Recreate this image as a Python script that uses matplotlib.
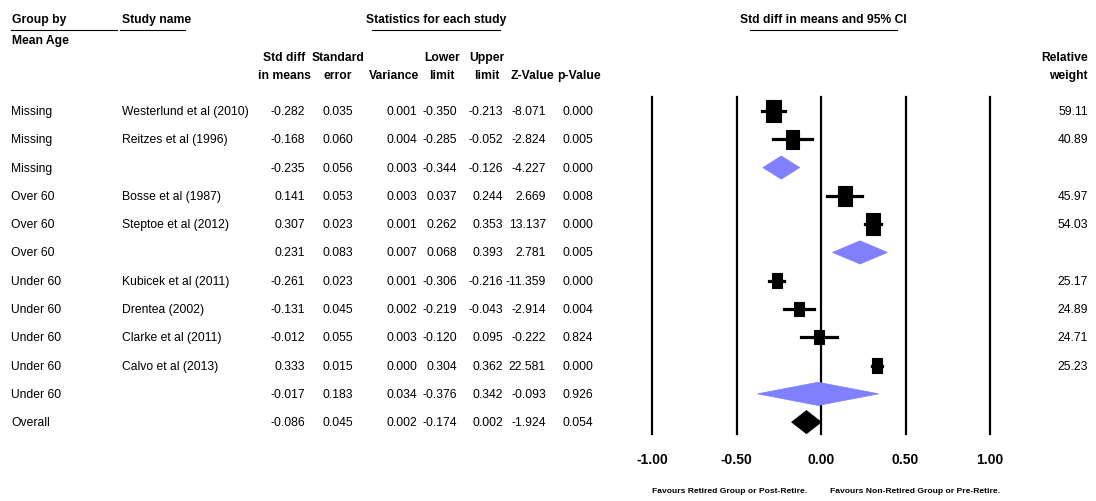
"""
Forest plot: retirement and std diff in means, grouped by mean age.
"""

import numpy as np
import matplotlib
matplotlib.use('Agg')
from matplotlib import pyplot as plt
from matplotlib import transforms
from matplotlib.lines import Line2D
from matplotlib.patches import Rectangle, Polygon


groups = ['Missing', 'Missing', 'Missing', 'Over 60', 'Over 60', 'Over 60',
          'Under 60', 'Under 60', 'Under 60', 'Under 60', 'Under 60', 'Overall']
studies = ['Westerlund et al (2010)', 'Reitzes et al (1996)', '',
           'Bosse et al (1987)', 'Steptoe et al (2012)', '',
           'Kubicek et al (2011)', 'Drentea (2002)', 'Clarke et al (2011)',
           'Calvo et al (2013)', '', '']
kinds = ['study', 'study', 'sub', 'study', 'study', 'sub',
         'study', 'study', 'study', 'study', 'sub', 'overall']
std_diff = [-0.282, -0.168, -0.235, 0.141, 0.307, 0.231,
            -0.261, -0.131, -0.012, 0.333, -0.017, -0.086]
std_err = [0.035, 0.060, 0.056, 0.053, 0.023, 0.083,
           0.023, 0.045, 0.055, 0.015, 0.183, 0.045]
variance = [0.001, 0.004, 0.003, 0.003, 0.001, 0.007,
            0.001, 0.002, 0.003, 0.000, 0.034, 0.002]
lower = [-0.350, -0.285, -0.344, 0.037, 0.262, 0.068,
         -0.306, -0.219, -0.120, 0.304, -0.376, -0.174]
upper = [-0.213, -0.052, -0.126, 0.244, 0.353, 0.393,
         -0.216, -0.043, 0.095, 0.362, 0.342, 0.002]
z_value = [-8.071, -2.824, -4.227, 2.669, 13.137, 2.781,
           -11.359, -2.914, -0.222, 22.581, -0.093, -1.924]
p_value = [0.000, 0.005, 0.000, 0.008, 0.000, 0.005,
           0.000, 0.004, 0.824, 0.000, 0.926, 0.054]
rel_weight = [59.11, 40.89, None, 45.97, 54.03, None,
              25.17, 24.89, 24.71, 25.23, None, None]
x_ticks = [-1.0, -0.5, 0.0, 0.5, 1.0]

W, H = 1096, 502
plt.rcParams['font.family'] = ['Liberation Sans', 'DejaVu Sans']
fs = 8.7


def fx(px):
    return px / W


def fy(py):
    return 1 - py / H


fig = plt.figure(figsize=(W / 100, H / 100), dpi=100)
ax = fig.add_axes([fx(652), fy(435), 338 / W, (435 - 98) / H])
ax.set_xlim(-1, 1)
ax.set_ylim(11.42, -0.495)
for s in ax.spines.values():
    s.set_visible(False)
ax.set_yticks([])
ax.set_xticks(x_ticks)
ax.set_xticklabels(['%.2f' % t for t in x_ticks], fontsize=10, fontweight='bold')
ax.tick_params(axis='x', length=0, pad=13)
for t in x_ticks:
    ax.axvline(t, color='black', lw=1.6, zorder=1, clip_on=False)

# boxes scaled by sqrt of relative weight, whiskers for the CI
px_per_unit = 338 / 2.
px_per_row = (423 - 112) / 11.
for i, k in enumerate(kinds):
    if k == 'study':
        ax.plot([lower[i], upper[i]], [i, i], color='black', lw=2.3, zorder=3)
        side = np.sqrt(rel_weight[i])
        bw = 2.0 * side / px_per_unit
        bh = 2.9 * side / px_per_row
        ax.add_patch(Rectangle((std_diff[i] - bw / 2, i - bh / 2), bw, bh,
                               facecolor='black', edgecolor='black', lw=0.8, zorder=4))
    else:
        half = 0.41
        color = '#8080ff' if k == 'sub' else 'black'
        ax.add_patch(Polygon([(lower[i], i), (std_diff[i], i - half),
                              (upper[i], i), (std_diff[i], i + half)],
                             closed=True, facecolor=color, edgecolor=color,
                             lw=0.5, zorder=4))

# table columns, rows share the y scale of the plot
row_tr = transforms.blended_transform_factory(fig.transFigure, ax.transData)
columns = [(std_diff, 305), (std_err, 353), (variance, 417), (lower, 457),
           (upper, 503), (z_value, 546), (p_value, 593)]
for i in range(len(groups)):
    fig.text(fx(11), i, groups[i], transform=row_tr, fontsize=fs, va='center')
    fig.text(fx(122), i, studies[i], transform=row_tr, fontsize=fs, va='center')
    for vals, right in columns:
        fig.text(fx(right), i, '%.3f' % vals[i], transform=row_tr,
                 fontsize=fs, va='center', ha='right')
    if rel_weight[i] is not None:
        fig.text(fx(1088), i, '%.2f' % rel_weight[i], transform=row_tr,
                 fontsize=fs, va='center', ha='right')

# headers
hdr = dict(fontsize=fs, fontweight='bold', va='center')
fig.text(fx(12), fy(20), 'Group by', **hdr)
fig.text(fx(12), fy(41), 'Mean Age', **hdr)
fig.text(fx(122), fy(20), 'Study name', **hdr)
fig.text(fx(436), fy(20), 'Statistics for each study', ha='center', **hdr)
fig.text(fx(823), fy(20), 'Std diff in means and 95% CI', ha='center', **hdr)
heads = [(284, 'Std diff', 'in means'), (338, 'Standard', 'error'),
         (394, '', 'Variance'), (442, 'Lower', 'limit'), (487, 'Upper', 'limit'),
         (532, '', 'Z-Value'), (579, '', 'p-Value')]
for cx, top, bottom in heads:
    fig.text(fx(cx), fy(58), top, ha='center', **hdr)
    fig.text(fx(cx), fy(76), bottom, ha='center', **hdr)
fig.text(fx(1088), fy(58), 'Relative', ha='right', **hdr)
fig.text(fx(1088), fy(76), 'weight', ha='right', **hdr)

for x0, x1 in [(11, 117), (120, 185), (372, 500), (750, 897)]:
    fig.add_artist(Line2D([fx(x0), fx(x1)], [fy(31), fy(31)],
                          transform=fig.transFigure, color='black', lw=0.8))

fig.text(fx(807), fy(492), 'Favours Retired Group or Post-Retire.',
         fontsize=6.1, fontweight='bold', ha='right', va='center')
fig.text(fx(830), fy(492), 'Favours Non-Retired Group or Pre-Retire.',
         fontsize=6.1, fontweight='bold', ha='left', va='center')

fig.savefig('out.png', dpi=100, facecolor='white')
